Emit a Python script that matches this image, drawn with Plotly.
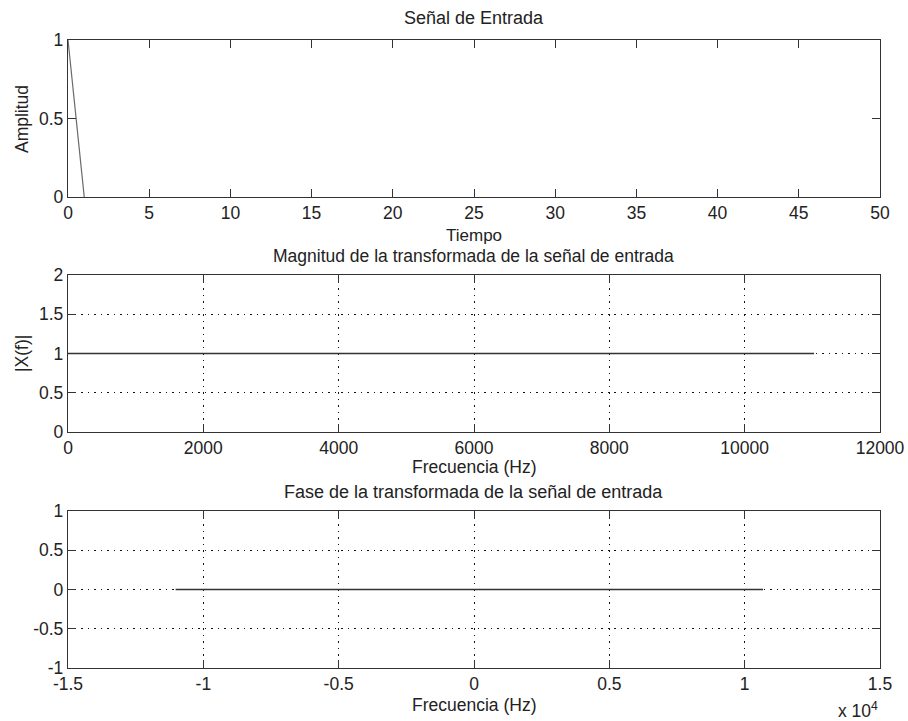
import plotly.graph_objects as go

# Data
t_in = [0, 1]
x_in = [1, 0]
f_mag = [0, 11025]
mag = [1, 1]
f_phase = [-11025, 10680]
phase = [0, 0]

FONT = "Liberation Sans, Arial, sans-serif"
W, H = 908, 721
xl, xr = 68 / W, 880 / W

def ydom(top, bot):
    return [1 - bot / H, 1 - top / H]

fig = go.Figure()
fig.add_trace(go.Scatter(x=t_in, y=x_in, mode="lines", line=dict(color="#6a6a6a", width=1.2),
                         xaxis="x", yaxis="y", showlegend=False))
fig.add_trace(go.Scatter(x=f_mag, y=mag, mode="lines", line=dict(color="#333333", width=1.3),
                         xaxis="x2", yaxis="y2", showlegend=False))
fig.add_trace(go.Scatter(x=f_phase, y=phase, mode="lines", line=dict(color="#333333", width=1.3),
                         xaxis="x3", yaxis="y3", showlegend=False))

common = dict(showline=True, linecolor="#333333", linewidth=1.3, mirror="ticks",
              ticks="inside", ticklen=8, tickcolor="#333333", tickwidth=1.2,
              zeroline=False, automargin=False,
              tickfont=dict(family=FONT, size=17.5, color="#222222"))
grid = dict(showgrid=True, gridcolor="#111111", gridwidth=1.1, griddash="1.5px,5px")
nogrid = dict(showgrid=False)

fig.update_layout(
    width=W, height=H, margin=dict(l=0, r=0, t=0, b=0, pad=0, autoexpand=False),
    paper_bgcolor="white", plot_bgcolor="white",
    font=dict(family=FONT, size=17, color="#222222"),
    xaxis=dict(domain=[xl, xr], range=[0, 50], tickvals=list(range(0, 51, 5)),
               anchor="y", **common, **nogrid),
    yaxis=dict(domain=ydom(40, 197), range=[0, 1], tickvals=[0, 0.5, 1],
               ticktext=["0", "0.5", "1"], anchor="x", **common, **nogrid),
    xaxis2=dict(domain=[xl, xr], range=[0, 12000], tickvals=list(range(0, 12001, 2000)),
                ticktext=[str(v) for v in range(0, 12001, 2000)], anchor="y2", **common, **grid),
    yaxis2=dict(domain=ydom(275, 432), range=[0, 2], tickvals=[0, 0.5, 1, 1.5, 2],
                ticktext=["0", "0.5", "1", "1.5", "2"], anchor="x2", **common, **grid),
    xaxis3=dict(domain=[xl, xr], range=[-15000, 15000],
                tickvals=[-15000, -10000, -5000, 0, 5000, 10000, 15000],
                ticktext=["-1.5", "-1", "-0.5", "0", "0.5", "1", "1.5"], anchor="y3", **common, **grid),
    yaxis3=dict(domain=ydom(511, 668), range=[-1, 1], tickvals=[-1, -0.5, 0, 0.5, 1],
                ticktext=["-1", "-0.5", "0", "0.5", "1"], anchor="x3", **common, **grid),
)

def ann(text, x, y, size=18, angle=0, xanchor="center"):
    fig.add_annotation(text=text, x=x / W, y=1 - y / H, xref="paper", yref="paper",
                       showarrow=False, font=dict(family=FONT, size=size, color="#222222"),
                       textangle=angle, xanchor=xanchor, yanchor="middle")

ann("Señal de Entrada", 474, 18)
ann("Tiempo", 474, 235, size=17)
ann("Amplitud", 22, 119, size=17.5, angle=-90)
ann("Magnitud de la transformada de la señal de entrada", 474, 256, size=17.5)
ann("Frecuencia (Hz)", 474, 467, size=17.5)
ann("|X(f)|", 22, 354, size=17.5, angle=-90)
ann("Fase de la transformada de la señal de entrada", 474, 492)
ann("Frecuencia (Hz)", 474, 705, size=17.5)
ann("x 10<sup>4</sup>", 858, 710, size=17.5)

fig.write_html("out.html")
